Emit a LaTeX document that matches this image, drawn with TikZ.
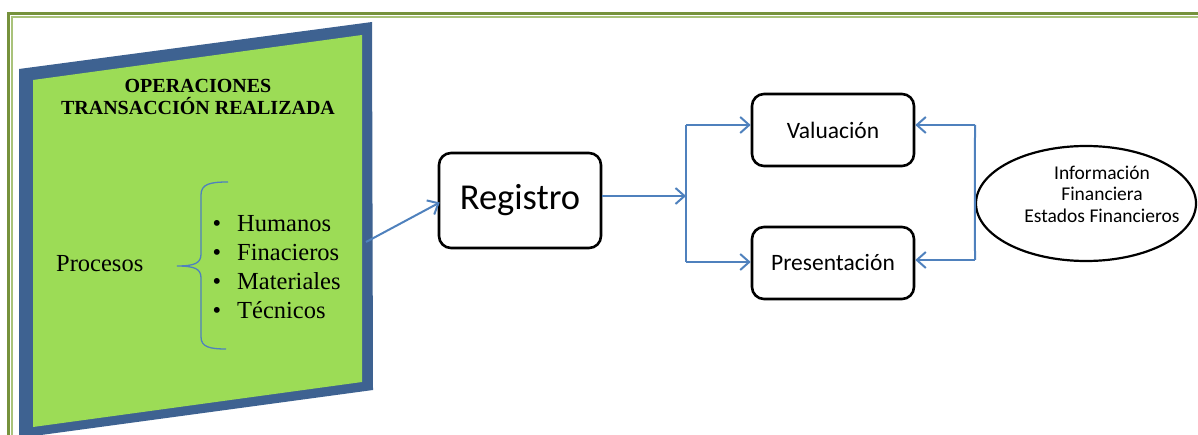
\documentclass[tikz,border=0pt]{standalone}
\usepackage{fontspec}
\setmainfont{Liberation Serif}
\newfontfamily\calibri{Carlito}
\usetikzlibrary{arrows.meta,shapes.geometric}

\definecolor{frameolive}{HTML}{76923C}
\definecolor{framelight}{HTML}{A9C27A}
\definecolor{panelblue}{HTML}{3E6291}
\definecolor{panelgreen}{HTML}{9CDC56}
\definecolor{linkblue}{HTML}{4F81BD}

\begin{document}
\begin{tikzpicture}[x=1pt,y=-1pt,
  box/.style={draw=black, line width=2.6pt, rounded corners=12pt, inner sep=0pt,
    minimum width=162pt, font=\calibri\fontsize{23.5}{27}\selectfont},
  link/.style={draw=linkblue, line width=2pt,
    -{Straight Barb[length=9pt,width=16pt,line width=2pt]}},
  plain/.style={draw=linkblue, line width=2pt},
  serifitem/.style={inner sep=0pt, anchor=base west, font=\fontsize{24.5}{29}\selectfont},
  titletext/.style={inner sep=0pt, anchor=base, font=\bfseries\fontsize{20}{22}\selectfont},
]
\useasboundingbox (0,0) rectangle (1198,435);

% double page frame running off the right and bottom edges
\draw[frameolive, line width=3pt] (8.5,445) -- (8.5,13.5) -- (1210,13.5);
\draw[framelight, line width=1.2pt] (12,445) -- (12,17) -- (1210,17);

% tilted panel: blue rim and green face
\fill[panelblue] (19,69) -- (372,22) -- (373,390) -- (19,438) -- cycle;
\fill[panelgreen] (33,80) -- (362,35) -- (362,382) -- (33,427) -- cycle;

% panel heading
\node[titletext] (title1) at (198,93) {OPERACIONES};
\node[titletext] (title2) at (198,115) {TRANSACCIÓN REALIZADA};

% processes and their list
\node[serifitem] (procesos) at (56,272) {Procesos};
\draw[linkblue, line width=1.3pt]
  (228,182) .. controls (210,182) and (201,184) .. (201,195)
  -- (201,254) .. controls (201,263) and (195,266) .. (177,266)
  .. controls (195,266) and (201,269) .. (201,278)
  -- (201,337) .. controls (201,347) and (210,349) .. (226,349);
\foreach \name/\txt/\yy in {hum/Humanos/232, fin/Finacieros/261, mat/Materiales/289.5, tec/Técnicos/318}{
  \node[serifitem, anchor=base] (b\name) at (217,\yy) {•};
  \node[serifitem] (\name) at (237,\yy) {\txt};
}

% flow boxes
\node[box, minimum height=95pt, font=\calibri\fontsize{36.5}{40}\selectfont] (reg) at (520,200.5) {Registro};
\node[box, minimum height=72pt] (val) at (833,130) {Valuación};
\node[box, minimum height=72pt] (pres) at (833,263) {Presentación};

% financial information
\node[draw=black, line width=2.2pt, ellipse, minimum width=220pt, minimum height=115pt, inner sep=0pt] (info) at (1086,203.5) {};
\node[align=center, inner sep=0pt, font=\calibri\fontsize{19.5}{21.5}\selectfont] (infotext) at (1102,194)
  {Información\\Financiera\\Estados Financieros};

% connectors
\coordinate (panelout) at (366,242);
\coordinate (split) at (686,196);
\coordinate (vtop) at (686,125);
\coordinate (vbot) at (686,262);
\coordinate (rtop) at (975,125);
\coordinate (rbot) at (975,260);

\draw[link] (panelout) -- ([xshift=2pt,yshift=-2pt]reg.west);
\draw[link] (reg.east |- split) -- (split);
\draw[plain] (vtop) -- (vbot);
\draw[link] (vtop) -- (val.west |- vtop);
\draw[link] (vbot) -- (pres.west |- vbot);
\draw[plain] (rtop) -- (info.west) -- (rbot);
\draw[link] (rtop) -- (val.east |- rtop);
\draw[link] (rbot) -- (pres.east |- rbot);
\end{tikzpicture}
\end{document}
